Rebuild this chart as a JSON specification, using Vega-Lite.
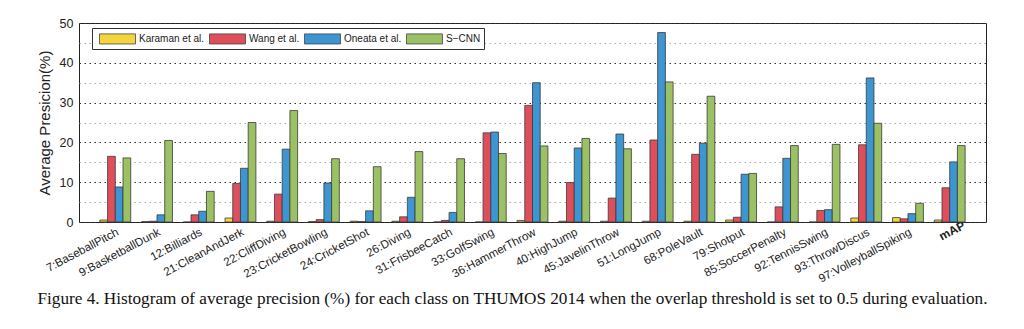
{
  "$schema": "https://vega.github.io/schema/vega-lite/v6.json",
  "autosize": "none",
  "width": 907,
  "height": 199,
  "padding": {"left": 79, "top": 23, "right": 38, "bottom": 107},
  "background": "white",
  "title": {
    "text": "Figure 4. Histogram of average precision (%) for each class on THUMOS 2014 when the overlap threshold is set to 0.5 during evaluation.",
    "orient": "bottom",
    "anchor": "middle",
    "font": "Liberation Serif",
    "fontSize": 17.2,
    "fontWeight": "normal",
    "color": "#111",
    "dx": -20,
    "offset": 5
  },
  "data": {
    "values": [
      {"cls": "7:BaseballPitch", "method": "Karaman et al.", "ap": 0.5},
      {"cls": "7:BaseballPitch", "method": "Wang et al.", "ap": 16.5},
      {"cls": "7:BaseballPitch", "method": "Oneata et al.", "ap": 8.8},
      {"cls": "7:BaseballPitch", "method": "S−CNN", "ap": 16.1},
      {"cls": "9:BasketballDunk", "method": "Karaman et al.", "ap": 0.1},
      {"cls": "9:BasketballDunk", "method": "Wang et al.", "ap": 0.2},
      {"cls": "9:BasketballDunk", "method": "Oneata et al.", "ap": 1.8},
      {"cls": "9:BasketballDunk", "method": "S−CNN", "ap": 20.5},
      {"cls": "12:Billiards", "method": "Karaman et al.", "ap": 0.0},
      {"cls": "12:Billiards", "method": "Wang et al.", "ap": 1.8},
      {"cls": "12:Billiards", "method": "Oneata et al.", "ap": 2.7},
      {"cls": "12:Billiards", "method": "S−CNN", "ap": 7.7},
      {"cls": "21:CleanAndJerk", "method": "Karaman et al.", "ap": 1.0},
      {"cls": "21:CleanAndJerk", "method": "Wang et al.", "ap": 9.7},
      {"cls": "21:CleanAndJerk", "method": "Oneata et al.", "ap": 13.5},
      {"cls": "21:CleanAndJerk", "method": "S−CNN", "ap": 25.0},
      {"cls": "22:CliffDiving", "method": "Karaman et al.", "ap": 0.2},
      {"cls": "22:CliffDiving", "method": "Wang et al.", "ap": 7.0},
      {"cls": "22:CliffDiving", "method": "Oneata et al.", "ap": 18.3},
      {"cls": "22:CliffDiving", "method": "S−CNN", "ap": 28.0},
      {"cls": "23:CricketBowling", "method": "Karaman et al.", "ap": 0.1},
      {"cls": "23:CricketBowling", "method": "Wang et al.", "ap": 0.6},
      {"cls": "23:CricketBowling", "method": "Oneata et al.", "ap": 9.8},
      {"cls": "23:CricketBowling", "method": "S−CNN", "ap": 15.9},
      {"cls": "24:CricketShot", "method": "Karaman et al.", "ap": 0.2},
      {"cls": "24:CricketShot", "method": "Wang et al.", "ap": 0.1},
      {"cls": "24:CricketShot", "method": "Oneata et al.", "ap": 2.8},
      {"cls": "24:CricketShot", "method": "S−CNN", "ap": 13.9},
      {"cls": "26:Diving", "method": "Karaman et al.", "ap": 0.2},
      {"cls": "26:Diving", "method": "Wang et al.", "ap": 1.3},
      {"cls": "26:Diving", "method": "Oneata et al.", "ap": 6.2},
      {"cls": "26:Diving", "method": "S−CNN", "ap": 17.7},
      {"cls": "31:FrisbeeCatch", "method": "Karaman et al.", "ap": 0.0},
      {"cls": "31:FrisbeeCatch", "method": "Wang et al.", "ap": 0.4},
      {"cls": "31:FrisbeeCatch", "method": "Oneata et al.", "ap": 2.4},
      {"cls": "31:FrisbeeCatch", "method": "S−CNN", "ap": 15.9},
      {"cls": "33:GolfSwing", "method": "Karaman et al.", "ap": 0.0},
      {"cls": "33:GolfSwing", "method": "Wang et al.", "ap": 22.4},
      {"cls": "33:GolfSwing", "method": "Oneata et al.", "ap": 22.6},
      {"cls": "33:GolfSwing", "method": "S−CNN", "ap": 17.2},
      {"cls": "36:HammerThrow", "method": "Karaman et al.", "ap": 0.4},
      {"cls": "36:HammerThrow", "method": "Wang et al.", "ap": 29.3},
      {"cls": "36:HammerThrow", "method": "Oneata et al.", "ap": 35.0},
      {"cls": "36:HammerThrow", "method": "S−CNN", "ap": 19.1},
      {"cls": "40:HighJump", "method": "Karaman et al.", "ap": 0.2},
      {"cls": "40:HighJump", "method": "Wang et al.", "ap": 9.9},
      {"cls": "40:HighJump", "method": "Oneata et al.", "ap": 18.6},
      {"cls": "40:HighJump", "method": "S−CNN", "ap": 21.0},
      {"cls": "45:JavelinThrow", "method": "Karaman et al.", "ap": 0.2},
      {"cls": "45:JavelinThrow", "method": "Wang et al.", "ap": 6.0},
      {"cls": "45:JavelinThrow", "method": "Oneata et al.", "ap": 22.1},
      {"cls": "45:JavelinThrow", "method": "S−CNN", "ap": 18.4},
      {"cls": "51:LongJump", "method": "Karaman et al.", "ap": 0.2},
      {"cls": "51:LongJump", "method": "Wang et al.", "ap": 20.6},
      {"cls": "51:LongJump", "method": "Oneata et al.", "ap": 47.6},
      {"cls": "51:LongJump", "method": "S−CNN", "ap": 35.2},
      {"cls": "68:PoleVault", "method": "Karaman et al.", "ap": 0.2},
      {"cls": "68:PoleVault", "method": "Wang et al.", "ap": 17.0},
      {"cls": "68:PoleVault", "method": "Oneata et al.", "ap": 19.8},
      {"cls": "68:PoleVault", "method": "S−CNN", "ap": 31.6},
      {"cls": "79:Shotput", "method": "Karaman et al.", "ap": 0.5},
      {"cls": "79:Shotput", "method": "Wang et al.", "ap": 1.2},
      {"cls": "79:Shotput", "method": "Oneata et al.", "ap": 12.0},
      {"cls": "79:Shotput", "method": "S−CNN", "ap": 12.2},
      {"cls": "85:SoccerPenalty", "method": "Karaman et al.", "ap": 0.0},
      {"cls": "85:SoccerPenalty", "method": "Wang et al.", "ap": 3.8},
      {"cls": "85:SoccerPenalty", "method": "Oneata et al.", "ap": 16.0},
      {"cls": "85:SoccerPenalty", "method": "S−CNN", "ap": 19.2},
      {"cls": "92:TennisSwing", "method": "Karaman et al.", "ap": 0.0},
      {"cls": "92:TennisSwing", "method": "Wang et al.", "ap": 2.9},
      {"cls": "92:TennisSwing", "method": "Oneata et al.", "ap": 3.1},
      {"cls": "92:TennisSwing", "method": "S−CNN", "ap": 19.5},
      {"cls": "93:ThrowDiscus", "method": "Karaman et al.", "ap": 1.0},
      {"cls": "93:ThrowDiscus", "method": "Wang et al.", "ap": 19.4},
      {"cls": "93:ThrowDiscus", "method": "Oneata et al.", "ap": 36.2},
      {"cls": "93:ThrowDiscus", "method": "S−CNN", "ap": 24.8},
      {"cls": "97:VolleyballSpiking", "method": "Karaman et al.", "ap": 1.1},
      {"cls": "97:VolleyballSpiking", "method": "Wang et al.", "ap": 0.8},
      {"cls": "97:VolleyballSpiking", "method": "Oneata et al.", "ap": 2.1},
      {"cls": "97:VolleyballSpiking", "method": "S−CNN", "ap": 4.7},
      {"cls": "mAP", "method": "Karaman et al.", "ap": 0.5},
      {"cls": "mAP", "method": "Wang et al.", "ap": 8.6},
      {"cls": "mAP", "method": "Oneata et al.", "ap": 15.1},
      {"cls": "mAP", "method": "S−CNN", "ap": 19.2}
    ]
  },
  "mark": {"type": "bar", "stroke": "#3a3a3a", "strokeWidth": 0.8},
  "encoding": {
    "x": {
      "field": "cls",
      "type": "nominal",
      "sort": null,
      "title": null,
      "scale": {"paddingInner": 0.26, "paddingOuter": 0.5},
      "axis": {
        "ticks": false,
        "domain": false,
        "labelAngle": -28,
        "labelFont": "Liberation Sans",
        "labelColor": "#222",
        "labelPadding": 4,
        "labelOverlap": false,
        "labelLimit": 0,
        "labelAlign": {"condition": {"test": "datum.value === 'mAP'", "value": "center"}, "value": "right"},
        "labelFontWeight": {"condition": {"test": "datum.value === 'mAP'", "value": "bold"}, "value": "normal"},
        "labelFontSize": {"condition": {"test": "datum.value === 'mAP'", "value": 12}, "value": 11.6},
        "encode": {"labels": {"update": {"angle": {"signal": "datum.value === 'mAP' ? 0 : -28"}}}}
      }
    },
    "xOffset": {
      "field": "method",
      "type": "nominal",
      "sort": ["Karaman et al.", "Wang et al.", "Oneata et al.", "S−CNN"],
      "scale": {"paddingInner": 0, "paddingOuter": 0}
    },
    "y": {
      "field": "ap",
      "type": "quantitative",
      "title": "Average Presicion(%)",
      "scale": {"domain": [0, 50], "nice": false},
      "axis": {
        "values": [0, 5, 10, 15, 20, 25, 30, 35, 40, 45, 50],
        "labelExpr": "datum.value % 10 === 0 ? datum.label : ''",
        "labelFont": "Liberation Sans",
        "labelFontSize": 12.5,
        "labelColor": "#222",
        "labelPadding": 6,
        "domain": false,
        "ticks": false,
        "grid": true,
        "gridDash": [1.5, 3.5],
        "gridColor": {"condition": {"test": "datum.value % 10 === 0", "value": "#333"}, "value": "#aaa"},
        "gridWidth": 1,
        "titleFont": "Liberation Sans",
        "titleFontSize": 15,
        "titleFontWeight": "normal",
        "titleColor": "#222",
        "titlePadding": 7
      }
    },
    "fill": {
      "field": "method",
      "type": "nominal",
      "sort": ["Karaman et al.", "Wang et al.", "Oneata et al.", "S−CNN"],
      "scale": {"range": ["#f5d53e", "#df4f5b", "#3d95d1", "#9cc164"]},
      "legend": {
        "title": null,
        "orient": "none",
        "direction": "horizontal",
        "legendX": 13,
        "legendY": 5,
        "padding": 3,
        "strokeColor": "#333",
        "fillColor": "white",
        "symbolType": "M-2.57,-0.72H2.57V0.72H-2.57Z",
        "symbolSize": 196,
        "symbolOffset": 15,
        "symbolStrokeColor": "#444",
        "symbolStrokeWidth": 0.8,
        "symbolOpacity": 1,
        "labelFont": "Liberation Sans",
        "labelFontSize": 10,
        "labelColor": "#222",
        "labelOffset": 14,
        "columnPadding": 0
      }
    }
  },
  "config": {
    "view": {"stroke": "#222", "strokeWidth": 1}
  }
}
